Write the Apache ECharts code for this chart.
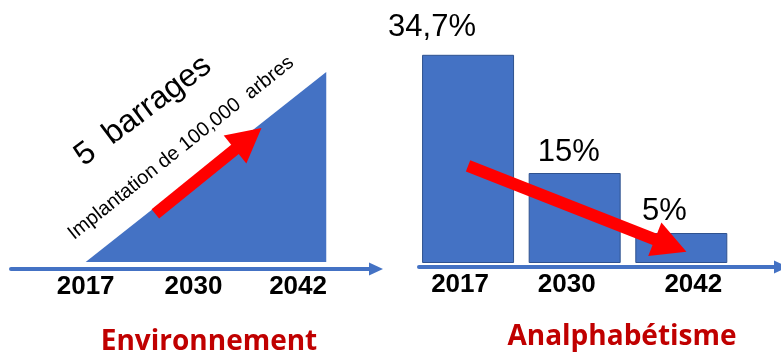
<!DOCTYPE html>
<html><head><meta charset="utf-8">
<script src="https://cdn.jsdelivr.net/npm/echarts@6/dist/echarts.min.js"></script>
<style>html,body{margin:0;padding:0;background:#fff}#c{width:781px;height:354px}</style>
</head><body><div id="c"></div>
<script>
// ---- data ----
const yearLabels = ['2017', '2030', '2042'];
const envTickYears = [2017, 2030, 2042];
const envYears = [2017, 2046];
const envTrees = [0, 100000];
const envArrowFrom = [2025.4, 25300];
const envArrowTo = [2036.6, 64900];
const analphaRates = [34.7, 15, 5];
const analphaArrowFrom = [0.0, 16.2];
const analphaArrowTo = [1.9, 2.9];
const panelTitles = ['Environnement', 'Analphabétisme'];
const envNotes = ['5  barrages', 'Implantation de 100,000  arbres'];

// ---- styling helpers ----
const BLUE = '#4472C4', RED = '#FF0000', TITLE_RED = '#C00000';
const barLabelOffsets = [[-36, -7], [-6, 0], [-17, -1]];
const rightTickPad = [[0, 16, 0, 0], [0, 16, 0, 0], [0, 0, 0, 24]];
const leftTickPad = [[0, 0, 0, 0], [0, 0, 0, 0], [0, 0, 0, 10]];
const tickFont = { fontSize: 26, fontWeight: 'bold', color: '#000', fontFamily: 'Liberation Sans' };

function rich(pads) {
  const r = {};
  pads.forEach((p, i) => { r['s' + i] = Object.assign({ padding: p }, tickFont); });
  return r;
}
function axisLine() {
  return { show: true, onZero: false, symbol: ['none', 'triangle'], symbolSize: [13, 14],
    lineStyle: { color: BLUE, width: 4 } };
}

const chart = echarts.init(document.getElementById('c'), null, { renderer: 'canvas' });
chart.setOption({
  animation: false,
  grid: [
    { left: 11, width: 365, top: 72, bottom: 92 },
    { left: 419, width: 365, top: 23, bottom: 91 }
  ],
  xAxis: [
    { gridIndex: 0, type: 'value', min: 2008, max: 2052, offset: 7,
      axisLine: axisLine(), axisTick: { show: false }, splitLine: { show: false },
      axisLabel: Object.assign({ customValues: envTickYears, margin: 5,
        formatter: v => { const i = envTickYears.indexOf(v); return '{s' + i + '|' + yearLabels[i] + '}'; },
        rich: rich(leftTickPad) }, tickFont) },
    { gridIndex: 1, type: 'value', min: -0.46, max: 2.935, offset: 4,
      axisLine: axisLine(), axisTick: { show: false }, splitLine: { show: false },
      axisLabel: Object.assign({ customValues: [0, 1, 2], margin: 5,
        formatter: v => '{s' + v + '|' + yearLabels[v] + '}',
        rich: rich(rightTickPad) }, tickFont, { fontSize: 25 }) }
  ],
  yAxis: [
    { gridIndex: 0, type: 'value', min: 0, max: 100000, show: false, splitLine: { show: false } },
    { gridIndex: 1, type: 'value', min: 0, max: 40, show: false, splitLine: { show: false } }
  ],
  series: [
    { type: 'line', xAxisIndex: 0, yAxisIndex: 0,
      data: envYears.map((y, i) => [y, envTrees[i]]),
      symbol: 'none', lineStyle: { width: 0 }, areaStyle: { color: BLUE, opacity: 1 },
      silent: true,
      markLine: { silent: true, symbol: ['none', 'triangle'], symbolSize: [36, 34],
        label: { show: false }, lineStyle: { color: RED, width: 12, type: 'solid' },
        emphasis: { disabled: true },
        data: [[{ coord: envArrowFrom }, { coord: envArrowTo }]] } },
    { type: 'bar', xAxisIndex: 1, yAxisIndex: 1, barWidth: 92,
      data: analphaRates.map((v, i) => ({ value: [i, v], label: { offset: barLabelOffsets[i] } })),
      itemStyle: { color: BLUE, borderColor: '#2F528F', borderWidth: 1 },
      label: { show: true, position: 'top', fontSize: 31, color: '#000', fontFamily: 'Liberation Sans',
        formatter: p => String(p.value[1]).replace('.', ',') + '%' },
      silent: true,
      markLine: { silent: true, symbol: ['none', 'triangle'], symbolSize: [36, 34],
        label: { show: false }, lineStyle: { color: RED, width: 12, type: 'solid' },
        emphasis: { disabled: true },
        data: [[{ coord: analphaArrowFrom }, { coord: analphaArrowTo }]] } }
  ],
  graphic: [
    { type: 'text', x: 143, y: 111, rotation: 37 * Math.PI / 180,
      style: { text: envNotes[0], fontSize: 32, fontFamily: 'Liberation Sans', fill: '#000',
        align: 'center', verticalAlign: 'middle' } },
    { type: 'text', x: 181, y: 148, rotation: 38.5 * Math.PI / 180,
      style: { text: envNotes[1], fontSize: 20, fontFamily: 'Liberation Sans', fill: '#000',
        align: 'center', verticalAlign: 'middle' } },
    { type: 'text', x: 209, y: 342,
      style: { text: panelTitles[0], fontSize: 28, fontWeight: 'bold', fontFamily: 'Open Sans', fill: TITLE_RED,
        align: 'center', verticalAlign: 'middle' } },
    { type: 'text', x: 622, y: 337,
      style: { text: panelTitles[1], fontSize: 28, fontWeight: 'bold', fontFamily: 'Open Sans', fill: TITLE_RED,
        align: 'center', verticalAlign: 'middle' } }
  ]
});
</script></body></html>
